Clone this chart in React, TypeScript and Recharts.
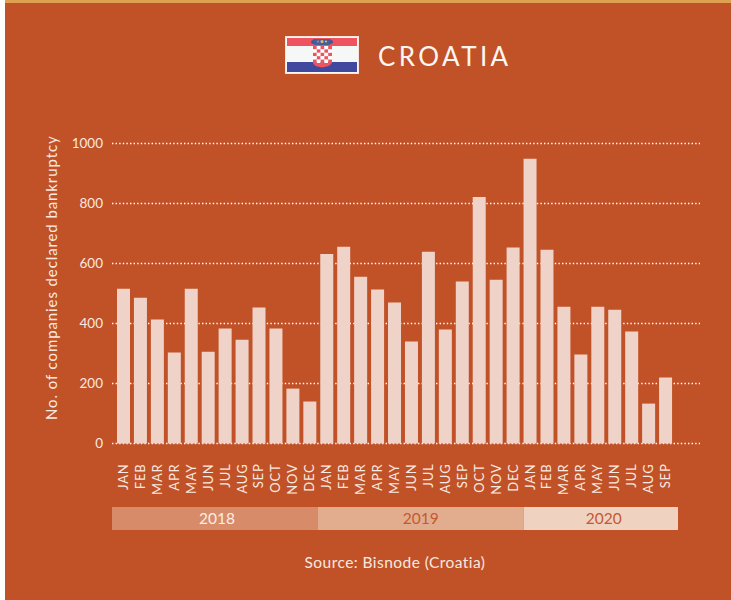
import { BarChart, Bar, XAxis, YAxis, CartesianGrid, LabelList } from "recharts";

const BG = "#c15126";
const INK = "#f8e9e1";
const FONT = "Lato, sans-serif";

const months = [
  "JAN", "FEB", "MAR", "APR", "MAY", "JUN", "JUL", "AUG", "SEP", "OCT", "NOV", "DEC",
  "JAN", "FEB", "MAR", "APR", "MAY", "JUN", "JUL", "AUG", "SEP", "OCT", "NOV", "DEC",
  "JAN", "FEB", "MAR", "APR", "MAY", "JUN", "JUL", "AUG", "SEP",
];
const bankruptcies = [
  516, 486, 413, 303, 516, 306, 383, 346, 453, 383, 183, 140,
  632, 656, 556, 513, 470, 340, 639, 380, 540, 822, 546, 653,
  949, 646, 456, 297, 456, 446, 373, 133, 220,
];
const valueTicks = [0, 200, 400, 600, 800, 1000];

const years = ["2018", "2019", "2020"];
const monthsPerYear = [12, 12, 9];
const yearFills = ["#d88b68", "#e2ad8f", "#efd2c0"];
const yearInks = ["#fbeee6", "#c4592f", "#c4592f"];
const yearNudge = [2, 0, 3];

const monthRows = months.map((month, i) => ({ month, value: bankruptcies[i] }));
const yearRow = [Object.fromEntries(years.map((y, i) => [y, monthsPerYear[i]]))];

// Month names read bottom to top, centred under their bars
function MonthTick({ x, y, payload }: any) {
  return (
    <text
      transform={`translate(${x + 4.5},${y}) rotate(-90)`}
      textAnchor="end"
      fill={INK}
      fontSize={13}
      fontFamily={FONT}
      letterSpacing={0.8}
    >
      {payload.value}
    </text>
  );
}

// Small flag with the chequered shield, stripes first and coat of arms on top
function Flag() {
  const red = "#ee5360";
  const squares = [];
  for (let r = 0; r < 5; r++) {
    for (let c = 0; c < 5; c++) {
      squares.push(
        <rect key={`${r}-${c}`} x={28 + c * 3.8} y={10 + r * 3.4} width={3.8} height={3.4} fill={(r + c) % 2 ? "#fff" : red} />
      );
    }
  }
  return (
    <svg width={74} height={38} style={{ position: "absolute", left: 285, top: 36 }}>
      <rect x={0.5} y={0.5} width={73} height={37} fill="#f6f8f8" stroke="#f8e4dc" />
      <rect x={2} y={2} width={70} height={8} fill={red} />
      <rect x={2} y={26} width={70} height={10} fill="#3f4a9e" />
      <path d="M28 3 L46 3 L45 9 L29 9 Z" fill="#46609c" />
      <circle cx={28} cy={6} r={2} fill="#3f5a9a" />
      <circle cx={46} cy={6} r={2} fill="#3f5a9a" />
      <circle cx={37} cy={5.5} r={1.5} fill="#d8c46a" />
      <circle cx={33} cy={5.5} r={1.1} fill="#e8677a" />
      <circle cx={41} cy={5.5} r={1.1} fill="#e8b84a" />
      {squares}
      <path d="M28 27 Q29 30.5 37 31.5 Q45 30.5 47 27 Z" fill={red} />
    </svg>
  );
}

export default function App() {
  return (
    <div style={{ position: "absolute", left: 0, top: 0, width: 731, height: 600, overflow: "hidden", background: "#fff" }}>
      <div style={{ position: "absolute", left: 5, top: 0, width: 726, height: 600, background: BG }} />
      <div style={{ position: "absolute", left: 5, top: 0, width: 726, height: 3, background: "#e0a052" }} />

      <Flag />
      <div style={{ position: "absolute", left: 378, top: 39, fontFamily: FONT, fontSize: 26, lineHeight: "34px", letterSpacing: 3.4, color: "#fdf6f2" }}>
        CROATIA
      </div>

      <div style={{ position: "absolute", left: 0, top: 0 }}>
        <BarChart
          width={731}
          height={500}
          data={monthRows}
          barCategoryGap={0}
          margin={{ top: 143.5, right: 31, bottom: 0, left: 40 }}
        >
          <CartesianGrid vertical={false} stroke="#fff" strokeWidth={1.3} strokeDasharray="1.4 2.2" />
          <XAxis
            dataKey="month"
            interval={0}
            padding={{ left: 3, right: 26 }}
            height={56.5}
            axisLine={false}
            tickLine={false}
            tickSize={0}
            tickMargin={20}
            tick={<MonthTick />}
          />
          <YAxis
            width={72}
            domain={[0, 1000]}
            ticks={valueTicks}
            axisLine={false}
            tickLine={false}
            tickSize={0}
            tickMargin={9}
            tick={{ fill: INK, fontSize: 13.5, fontFamily: FONT }}
            label={{
              value: "No. of companies declared bankruptcy",
              angle: -90,
              position: "insideLeft",
              dx: 7,
              dy: 126.5,
              fill: INK,
              fontSize: 15,
              fontFamily: FONT,
              letterSpacing: 0.9,
            }}
          />
          <Bar dataKey="value" barSize={13} fill="#efd3c9" isAnimationActive={false} />
        </BarChart>
      </div>

      <div style={{ position: "absolute", left: 112, top: 507 }}>
        <BarChart
          width={566}
          height={23}
          data={yearRow}
          layout="vertical"
          barCategoryGap={0}
          margin={{ top: 0, right: 0, bottom: 0, left: 0 }}
        >
          <XAxis type="number" hide domain={[0, 33]} />
          <YAxis type="category" hide />
          {years.map((y, i) => (
            <Bar key={y} dataKey={y} stackId="years" fill={yearFills[i]} isAnimationActive={false}>
              <LabelList
                position="center"
                formatter={() => y}
                dx={yearNudge[i]}
                fill={yearInks[i]}
                fontSize={15.5}
                fontFamily={FONT}
              />
            </Bar>
          ))}
        </BarChart>
      </div>

      <div style={{ position: "absolute", left: 205, width: 380, top: 552, textAlign: "center", fontFamily: FONT, fontSize: 15.5, lineHeight: "20px", letterSpacing: 0.45, color: INK }}>
        Source: Bisnode (Croatia)
      </div>
    </div>
  );
}
